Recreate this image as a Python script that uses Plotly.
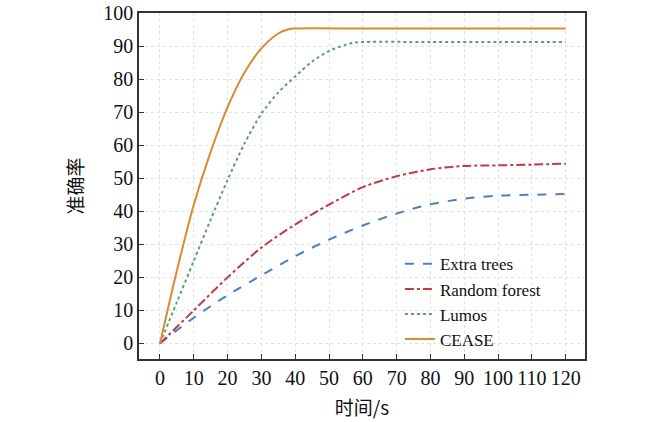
import plotly.graph_objects as go

# Time axis (s)
t_et = [0, 10, 20, 30, 40, 50, 60, 70, 80, 90, 100, 110, 120]
extra_trees = [0, 7.8, 14.6, 20.6, 26.4, 31.4, 35.7, 39.3, 42.1, 43.8, 44.7, 45.0, 45.2]

t_rf = [0, 10, 20, 30, 40, 50, 60, 70, 80, 90, 100, 110, 120]
random_forest = [0, 10.0, 20.0, 29.0, 36.0, 42.0, 47.3, 50.6, 52.7, 53.7, 53.9, 54.1, 54.4]

t_lu = [0, 5, 10, 15, 20, 25, 30, 35, 40, 45, 50, 55, 58, 80, 100, 120]
lumos = [0, 12.5, 25.0, 37.5, 49.5, 60.5, 69.5, 76.0, 80.8, 85.3, 88.5, 90.4, 91.1, 91.2, 91.2, 91.2]

t_ce = [0, 5, 10, 15, 20, 25, 30, 35, 38, 40, 60, 80, 100, 120]
cease = [0, 22.0, 42.0, 58.0, 71.5, 82.0, 89.3, 93.8, 95.1, 95.3, 95.3, 95.3, 95.3, 95.3]

x_ticks = list(range(0, 121, 10))
y_ticks = list(range(0, 101, 10))

serif = "Liberation Serif"
cjk = "Noto Sans CJK SC"

fig = go.Figure()
fig.add_trace(go.Scatter(x=t_et, y=extra_trees, name="Extra trees", mode="lines",
                         line=dict(color="#4f7fba", width=2, dash="dash", shape="spline", smoothing=0.9)))
fig.add_trace(go.Scatter(x=t_rf, y=random_forest, name="Random forest", mode="lines",
                         line=dict(color="#c03a40", width=2, dash="dashdot", shape="spline", smoothing=0.9)))
fig.add_trace(go.Scatter(x=t_lu, y=lumos, name="Lumos", mode="lines",
                         line=dict(color="#5aa070", width=2, dash="dot", shape="spline", smoothing=0.8)))
fig.add_trace(go.Scatter(x=t_ce, y=cease, name="CEASE", mode="lines",
                         line=dict(color="#d98b33", width=2, shape="spline", smoothing=0.8)))

axis_common = dict(
    showline=True, linecolor="#333333", linewidth=1.5, mirror=True,
    ticks="inside", ticklen=5, tickcolor="#333333", tickwidth=1,
    showgrid=True, gridcolor="#e2e2e2", griddash="dot", gridwidth=1,
    zeroline=False, automargin=False, ticklabeloverflow="allow",
    tickfont=dict(family=serif, size=20, color="#111111"),
)

fig.update_layout(
    width=650, height=422,
    margin=dict(l=139, r=65, t=13, b=63),
    paper_bgcolor="white", plot_bgcolor="white",
    font=dict(family=serif, color="#111111"),
    xaxis=dict(range=[-6.2, 125.7], tickvals=x_ticks,
               title=dict(text="时间/s", font=dict(family=cjk, size=19), standoff=14), **axis_common),
    yaxis=dict(range=[-4.7, 100], tickvals=y_ticks,
               title=dict(text="准确率", font=dict(family=cjk, size=19), standoff=15), **axis_common),
    legend=dict(x=0.585, y=0.005, xanchor="left", yanchor="bottom",
                bgcolor="rgba(0,0,0,0)", font=dict(family=serif, size=17),
                tracegroupgap=0),
    showlegend=True,
)

# drop the page's default 8px body margin so the figure sits at the window corner
fig.write_html("out.html", config={"displayModeBar": False},
               post_script="document.body.style.margin='0';")
